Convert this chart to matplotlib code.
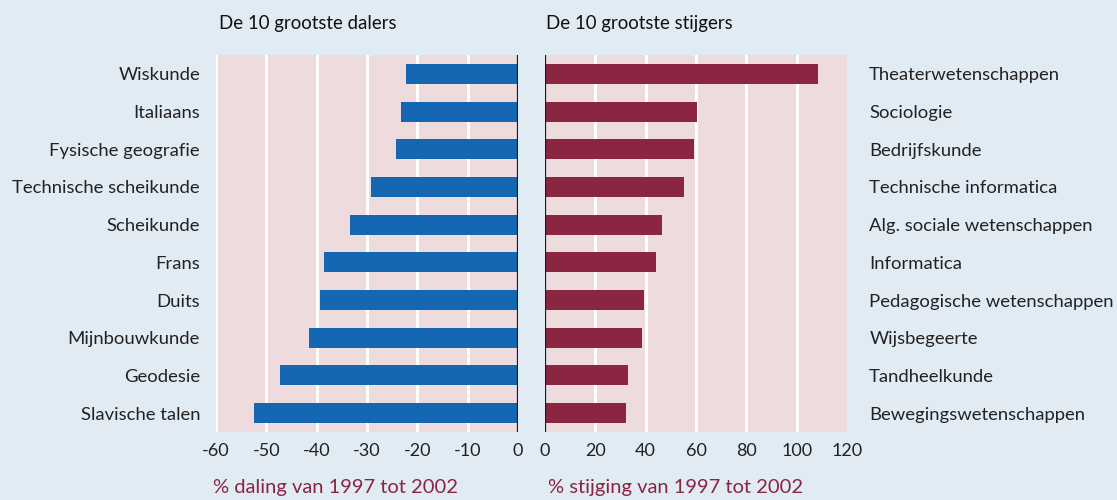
import matplotlib.pyplot as plt

# dalers (links) en stijgers (rechts), procentuele verandering 1997-2002
dalers = ["Wiskunde", "Italiaans", "Fysische geografie", "Technische scheikunde",
          "Scheikunde", "Frans", "Duits", "Mijnbouwkunde", "Geodesie",
          "Slavische talen"]
daling = [-22.3, -23.3, -24.2, -29.3, -33.4, -38.5, -39.3, -41.5, -47.3, -52.5]

stijgers = ["Theaterwetenschappen", "Sociologie", "Bedrijfskunde",
            "Technische informatica", "Alg. sociale wetenschappen", "Informatica",
            "Pedagogische wetenschappen", "Wijsbegeerte", "Tandheelkunde",
            "Bewegingswetenschappen"]
stijging = [108.5, 60.2, 59.4, 55.3, 46.3, 44.3, 39.5, 38.7, 32.8, 32.0]

left_ticks = [-60, -50, -40, -30, -20, -10, 0]
right_ticks = [0, 20, 40, 60, 80, 100, 120]

BG = "#e1ebf4"
PANEL = "#eddbde"
BLUE = "#1567b2"
MAROON = "#8a2542"
TEXT = "#222222"

plt.rcParams["font.family"] = ["Lato", "DejaVu Sans"]

fig = plt.figure(figsize=(11.17, 5.0), dpi=100, facecolor=BG)
ax_l = fig.add_axes([216 / 1117, 0.136, 302 / 1117, 0.754])
ax_r = fig.add_axes([545 / 1117, 0.136, 302 / 1117, 0.754])

def style(ax, ticks, lim, grid_at):
    ax.set_facecolor(PANEL)
    ax.set_xlim(*lim)
    ax.set_ylim(9.5, -0.5)
    ax.set_xticks(ticks)
    ax.set_xticklabels([str(t) for t in ticks], fontsize=13, color=TEXT)
    ax.tick_params(axis="x", length=0, pad=8)
    ax.tick_params(axis="y", length=0)
    for t in grid_at:
        ax.axvline(t, color="white", linewidth=2.2, zorder=1)
    for s in ax.spines.values():
        s.set_visible(False)

style(ax_l, left_ticks, (-60, 0), left_ticks[:-1])
style(ax_r, right_ticks, (0, 120), right_ticks[1:-1])

ypos = list(range(len(dalers)))
ax_l.barh(ypos, daling, height=0.53, color=BLUE, zorder=3)
ax_r.barh(ypos, stijging, height=0.53, color=MAROON, zorder=3)

ax_l.axvline(0, color="#1a1a1a", linewidth=1.6, zorder=4)
ax_r.axvline(0, color="#1a1a1a", linewidth=1.6, zorder=4)

ax_l.set_yticks(ypos)
ax_l.set_yticklabels(dalers, fontsize=13.3, color=TEXT)
ax_l.tick_params(axis="y", pad=11.5)

ax_r.set_yticks(ypos)
ax_r.set_yticklabels(stijgers, fontsize=13.3, color=TEXT)
ax_r.yaxis.tick_right()
ax_r.tick_params(axis="y", length=0, pad=16)

# labels iets onder het midden van de balk
for lab in ax_l.get_yticklabels() + ax_r.get_yticklabels():
    lab.set_verticalalignment("center_baseline")

fig.text(219 / 1117, 1 - 23 / 500, "De 10 grootste dalers", fontsize=13.4,
         color="#111111", va="center", ha="left")
fig.text(546 / 1117, 1 - 23 / 500, "De 10 grootste stijgers", fontsize=13.4,
         color="#111111", va="center", ha="left")

fig.text(213 / 1117, 1 - 488 / 500, "% daling van 1997 tot 2002", fontsize=14.5,
         color=MAROON, va="center", ha="left")
fig.text(548 / 1117, 1 - 488 / 500, "% stijging van 1997 tot 2002", fontsize=14.5,
         color=MAROON, va="center", ha="left")

fig.savefig("out.png", dpi=100, facecolor=BG)
